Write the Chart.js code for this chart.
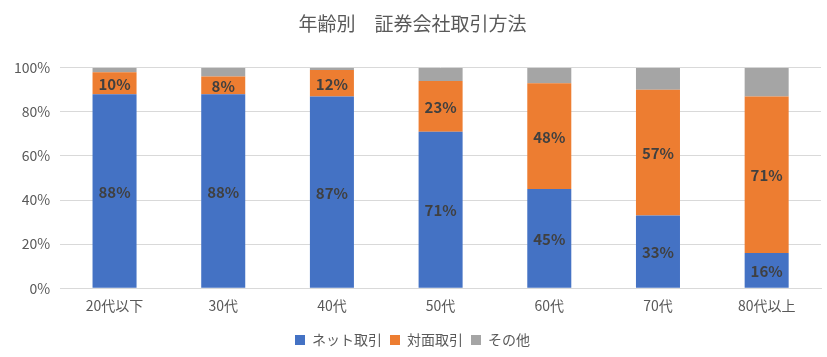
<!DOCTYPE html>
<html><head><meta charset="utf-8">
<script src="https://cdn.jsdelivr.net/npm/chart.js@4/dist/chart.umd.min.js"></script>
<style>html,body{margin:0;padding:0;background:#fff}#wrap{width:827px;height:357px}</style>
</head><body><div id="wrap"><canvas id="c" width="827" height="357"></canvas></div>
<script>
const categories = ['20代以下','30代','40代','50代','60代','70代','80代以上'];
const netValues = [88,88,87,71,45,33,16];
const faceValues = [10,8,12,23,48,57,71];
const otherValues = [2,4,1,6,7,10,13];
const seriesNames = ['ネット取引','対面取引','その他'];
const yTicks = [0,20,40,60,80,100];
const titleText = '年齢別　証券会社取引方法';

const FONT = "'Noto Sans CJK JP','Noto Sans',sans-serif";

const labelPlugin = {
  id:'segLabels',
  afterDatasetsDraw(chart){
    const ctx = chart.ctx;
    ctx.save();
    ctx.font = "bold 15px " + FONT;
    ctx.fillStyle = '#404040';
    ctx.textAlign = 'center';
    ctx.textBaseline = 'middle';
    [0,1].forEach(di=>{
      const meta = chart.getDatasetMeta(di);
      meta.data.forEach((bar,i)=>{
        const v = chart.data.datasets[di].data[i];
        const y = (bar.y + bar.base)/2;
        ctx.fillText(v + '%', bar.x, y + 1);
      });
    });
    ctx.restore();
  }
};

new Chart(document.getElementById('c'), {
  type:'bar',
  data:{
    labels:categories,
    datasets:[
      {label:seriesNames[0], data:netValues, backgroundColor:'#4472c4'},
      {label:seriesNames[1], data:faceValues, backgroundColor:'#ed7d31'},
      {label:seriesNames[2], data:otherValues, backgroundColor:'#a5a5a5'}
    ]
  },
  options:{
    responsive:false,
    animation:false,
    devicePixelRatio:1,
    layout:{padding:{left:4,right:6,top:0,bottom:0}},
    datasets:{bar:{categoryPercentage:1, barPercentage:0.405}},
    plugins:{
      title:{display:true, text:titleText, color:'#595959',
        font:{family:FONT, size:19, weight:'normal'}, padding:{top:12,bottom:33}},
      legend:{position:'bottom', labels:{color:'#595959', font:{family:FONT,size:14},
        boxWidth:10, boxHeight:10, padding:8}},
      tooltip:{enabled:false}
    },
    scales:{
      x:{stacked:true, grid:{display:false, drawTicks:false},
        border:{color:'#d9d9d9'},
        afterFit(s){ s.height += 2; },
        ticks:{color:'#595959', font:{family:FONT,size:14}, padding:9}},
      y:{stacked:true, min:0, max:100,
        afterBuildTicks(ax){ ax.ticks = yTicks.map(v=>({value:v})); },
        grid:{color:'#d9d9d9', drawTicks:false}, border:{display:false},
        ticks:{color:'#595959', font:{family:FONT,size:14}, padding:10,
          callback:v=>v+'%'}}
    }
  },
  plugins:[labelPlugin]
});
</script></body></html>
